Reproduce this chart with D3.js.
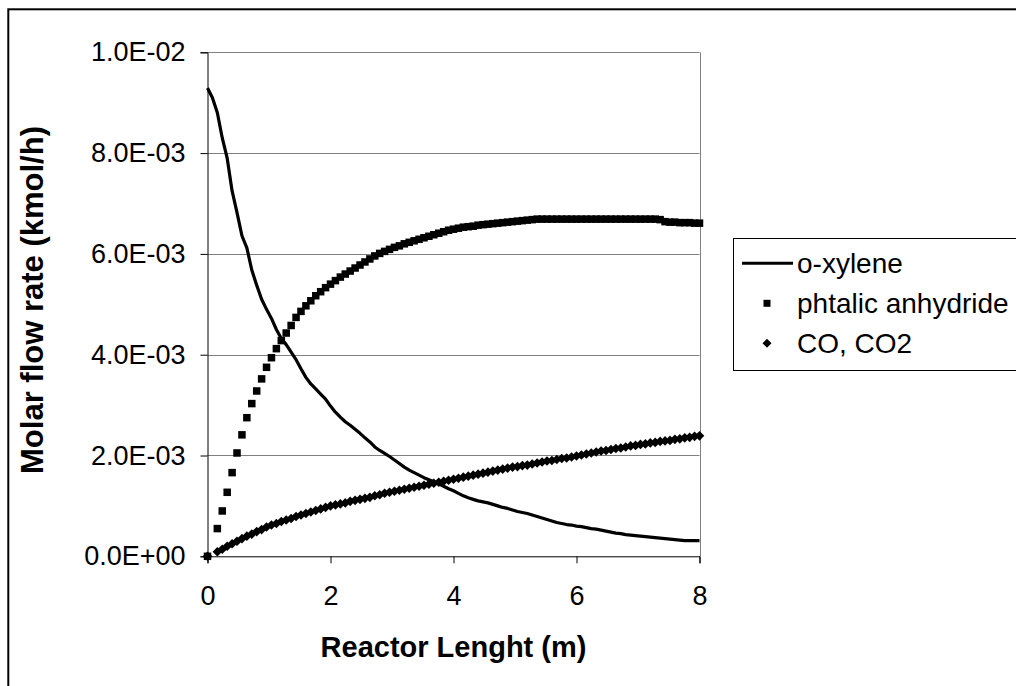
<!DOCTYPE html>
<html>
<head>
<meta charset="utf-8">
<script src="https://cdn.jsdelivr.net/npm/d3@7"></script>
<style>
  html, body { margin: 0; padding: 0; background: #fff; }
  svg { display: block; }
  text { font-family: "Liberation Sans", Arial, sans-serif; fill: #000; }
</style>
</head>
<body>
<svg id="chart" width="1016" height="686"></svg>
<script>
// ---------------- data ----------------
const seriesNames = ["o-xylene", "phtalic anhydride", "CO, CO2"];
const valueUnit = 1e-3; // values below are in units of 1E-03 kmol/h

// reactor length (m)
const reactorLength = [
  0.00,0.08,0.16,0.24,0.32,0.40,0.48,0.56,0.64,0.72,
  0.80,0.88,0.96,1.04,1.12,1.20,1.28,1.36,1.44,1.52,
  1.60,1.68,1.76,1.84,1.92,2.00,2.08,2.16,2.24,2.32,
  2.40,2.48,2.56,2.64,2.72,2.80,2.88,2.96,3.04,3.12,
  3.20,3.28,3.36,3.44,3.52,3.60,3.68,3.76,3.84,3.92,
  4.00,4.08,4.16,4.24,4.32,4.40,4.48,4.56,4.64,4.72,
  4.80,4.88,4.96,5.04,5.12,5.20,5.28,5.36,5.44,5.52,
  5.60,5.68,5.76,5.84,5.92,6.00,6.08,6.16,6.24,6.32,
  6.40,6.48,6.56,6.64,6.72,6.80,6.88,6.96,7.04,7.12,
  7.20,7.28,7.36,7.44,7.52,7.60,7.68,7.76,7.84,7.92,
  8.00
];

const oXylene = [
  9.29,9.10,8.80,8.30,7.90,7.25,6.82,6.36,6.12,5.68,
  5.38,5.10,4.90,4.72,4.50,4.32,4.20,4.05,3.90,3.72,
  3.55,3.42,3.32,3.22,3.12,2.98,2.86,2.76,2.67,2.60,
  2.52,2.44,2.35,2.27,2.17,2.10,2.04,1.98,1.91,1.84,
  1.77,1.71,1.66,1.61,1.56,1.52,1.48,1.44,1.39,1.34,
  1.30,1.25,1.20,1.16,1.13,1.10,1.08,1.06,1.03,1.00,
  0.97,0.95,0.92,0.89,0.87,0.85,0.82,0.79,0.76,0.73,
  0.70,0.67,0.65,0.63,0.62,0.60,0.59,0.57,0.55,0.54,
  0.52,0.50,0.48,0.46,0.45,0.43,0.42,0.41,0.40,0.39,
  0.38,0.37,0.36,0.35,0.34,0.33,0.32,0.31,0.31,0.31,
  0.31
];

const phthalicAnhydride = [
  0.00,null,0.55,0.90,1.27,1.66,2.05,2.41,2.75,3.03,
  3.28,3.52,3.75,3.94,4.12,4.28,4.43,4.58,4.74,4.86,
  4.97,5.07,5.17,5.25,5.33,5.40,5.47,5.54,5.60,5.66,
  5.72,5.78,5.84,5.90,5.96,6.01,6.05,6.09,6.13,6.16,
  6.20,6.23,6.26,6.29,6.32,6.35,6.38,6.41,6.44,6.47,
  6.49,6.51,6.53,6.54,6.55,6.57,6.58,6.59,6.60,6.61,
  6.62,6.63,6.64,6.65,6.66,6.67,6.68,6.69,6.69,6.69,
  6.69,6.69,6.69,6.69,6.69,6.69,6.69,6.69,6.69,6.69,
  6.69,6.69,6.69,6.69,6.69,6.69,6.69,6.69,6.69,6.69,
  6.69,6.69,6.68,6.64,6.63,6.63,6.62,6.62,6.62,6.61,
  6.61
];

const coCo2 = [
  0.00,null,0.09,0.14,0.20,0.25,0.30,0.35,0.40,0.44,
  0.49,0.53,0.58,0.62,0.65,0.69,0.72,0.75,0.79,0.82,
  0.85,0.88,0.91,0.94,0.97,1.00,1.02,1.04,1.06,1.09,
  1.11,1.13,1.15,1.17,1.20,1.22,1.25,1.27,1.29,1.31,
  1.33,1.35,1.37,1.39,1.41,1.43,1.45,1.47,1.49,1.51,
  1.53,1.55,1.57,1.59,1.61,1.63,1.65,1.67,1.69,1.71,
  1.73,1.75,1.77,1.78,1.80,1.81,1.83,1.85,1.87,1.89,
  1.90,1.92,1.94,1.95,1.97,1.99,2.01,2.03,2.05,2.07,
  2.09,2.10,2.12,2.14,2.15,2.17,2.19,2.20,2.22,2.23,
  2.25,2.26,2.28,2.29,2.30,2.32,2.33,2.35,2.36,2.38,
  2.39
];

const xTickValues = [0, 2, 4, 6, 8];
const xTickLabels = ["0", "2", "4", "6", "8"];
const yTickValues = [0, 0.002, 0.004, 0.006, 0.008, 0.010];
const yTickLabels = ["0.0E+00", "2.0E-03", "4.0E-03", "6.0E-03", "8.0E-03", "1.0E-02"];
const xTitle = "Reactor Lenght (m)";
const yTitle = "Molar flow rate (kmol/h)";

// ---------------- chart ----------------
const svg = d3.select("#chart");
const plot = { left: 207.5, right: 699.5, top: 52.3, bottom: 556.3 };

const x = d3.scaleLinear().domain([0, 8]).range([plot.left, plot.right]);
const y = d3.scaleLinear().domain([0, 0.01]).range([plot.bottom, plot.top]);

// outer chart border
svg.append("rect")
  .attr("x", 8.3).attr("y", 9.3)
  .attr("width", 1200).attr("height", 1000)
  .attr("fill", "none").attr("stroke", "#000").attr("stroke-width", 2);

// gridlines
svg.append("g")
  .selectAll("line")
  .data(yTickValues.filter(v => v > 0))
  .join("line")
  .attr("x1", plot.left).attr("x2", plot.right)
  .attr("y1", d => Math.round(y(d)) + 0.5).attr("y2", d => Math.round(y(d)) + 0.5)
  .attr("stroke", "#808080").attr("stroke-width", 1);

// right plot border
svg.append("line")
  .attr("x1", Math.round(plot.right) + 0.5).attr("x2", Math.round(plot.right) + 0.5)
  .attr("y1", y(0.01)).attr("y2", y(0))
  .attr("stroke", "#808080").attr("stroke-width", 1);

const tickFont = "27px";

// y axis
const yAxis = svg.append("g")
  .attr("transform", `translate(${plot.left},0)`)
  .call(d3.axisLeft(y).tickValues(yTickValues).tickSize(7).tickPadding(15)
        .tickFormat((d, i) => yTickLabels[i]));
yAxis.select(".domain").attr("stroke", "#000");
yAxis.selectAll(".tick line").attr("stroke", "#000");
yAxis.selectAll(".tick text")
  .style("font-size", tickFont).attr("fill", "#000")
  .attr("font-family", null);

// x axis
const xAxis = svg.append("g")
  .attr("transform", `translate(0,${plot.bottom})`)
  .call(d3.axisBottom(x).tickValues(xTickValues).tickSize(7).tickPadding(23)
        .tickFormat((d, i) => xTickLabels[i]));
xAxis.select(".domain").attr("stroke", "#000");
xAxis.selectAll(".tick line").attr("stroke", "#000");
xAxis.selectAll(".tick text")
  .style("font-size", tickFont).attr("fill", "#000")
  .attr("font-family", null);

// axis titles
svg.append("text")
  .attr("x", (plot.left + plot.right) / 2).attr("y", 657)
  .attr("text-anchor", "middle")
  .style("font-size", "29px").style("font-weight", "bold")
  .text(xTitle);

svg.append("text")
  .attr("transform", "translate(43,300) rotate(-90)")
  .attr("text-anchor", "middle")
  .style("font-size", "31px").style("font-weight", "bold")
  .text(yTitle);

// series
const oxData = reactorLength.map((d, i) => ({ x: d, y: oXylene[i] }))
  .filter(d => d.y != null);
const paData = reactorLength.map((d, i) => ({ x: d, y: phthalicAnhydride[i] }))
  .filter(d => d.y != null);
const coData = reactorLength.map((d, i) => ({ x: d, y: coCo2[i] }))
  .filter(d => d.y != null);

const line = d3.line()
  .x(d => x(d.x)).y(d => y(d.y * valueUnit));

svg.append("path")
  .datum(oxData)
  .attr("d", line)
  .attr("fill", "none").attr("stroke", "#000")
  .attr("stroke-width", 3.2).attr("stroke-linejoin", "round");

const sq = 7.5;
svg.append("g")
  .selectAll("rect")
  .data(paData)
  .join("rect")
  .attr("x", d => x(d.x) - sq / 2)
  .attr("y", d => y(d.y * valueUnit) - sq / 2)
  .attr("width", sq).attr("height", sq)
  .attr("fill", "#000");

const diamond = (cx, cy, r) => `M${cx},${cy - r}L${cx + r},${cy}L${cx},${cy + r}L${cx - r},${cy}Z`;
svg.append("g")
  .selectAll("path")
  .data(coData)
  .join("path")
  .attr("d", d => diamond(x(d.x), y(d.y * valueUnit), 4.8))
  .attr("fill", "#000");

// legend
const legend = svg.append("g");
legend.append("rect")
  .attr("x", 733.5).attr("y", 238.5)
  .attr("width", 400).attr("height", 132)
  .attr("fill", "#fff").attr("stroke", "#000").attr("stroke-width", 1);

const rowY = [263.3, 303.3, 343.3];
legend.append("line")
  .attr("x1", 742).attr("x2", 793)
  .attr("y1", rowY[0]).attr("y2", rowY[0])
  .attr("stroke", "#000").attr("stroke-width", 3);
legend.append("rect")
  .attr("x", 767 - 3.5).attr("y", rowY[1] - 3.5)
  .attr("width", 7).attr("height", 7).attr("fill", "#000");
legend.append("path")
  .attr("d", diamond(767, rowY[2], 4.5)).attr("fill", "#000");

legend.selectAll("text.lab")
  .data(seriesNames)
  .join("text")
  .attr("class", "lab")
  .attr("x", 797).attr("y", (d, i) => rowY[i] + 9.8)
  .style("font-size", "28px")
  .text(d => d);
</script>
</body>
</html>
